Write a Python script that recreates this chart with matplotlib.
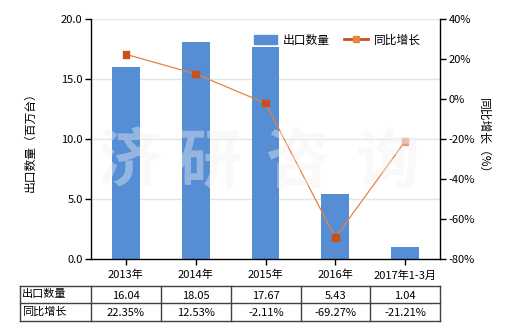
import matplotlib
matplotlib.use("Agg")
import matplotlib.pyplot as plt
from matplotlib.lines import Line2D
from matplotlib.patches import Patch

plt.rcParams['font.family'] = ['Noto Sans CJK SC', 'DejaVu Sans']

categories = ["2013年", "2014年", "2015年", "2016年", "2017年1-3月"]
export_qty = [16.04, 18.05, 17.67, 5.43, 1.04]
yoy_growth = [22.35, 12.53, -2.11, -69.27, -21.21]
qty_labels = ["16.04", "18.05", "17.67", "5.43", "1.04"]
yoy_labels = ["22.35%", "12.53%", "-2.11%", "-69.27%", "-21.21%"]
left_ticks = [0, 5, 10, 15, 20]
right_ticks = [-80, -60, -40, -20, 0, 20, 40]
series_names = ["出口数量", "同比增长"]
watermark = "济研咨询"

W, H = 520, 330
fig = plt.figure(figsize=(W / 100, H / 100), dpi=100)

def fx(px):
    return px / W

def fy(py):
    return 1 - py / H

ax_l, ax_r, ax_t, ax_b = 91, 440, 19, 259
ax = fig.add_axes([fx(ax_l), fy(ax_b), fx(ax_r - ax_l), fy(ax_t) - fy(ax_b)])
ax2 = ax.twinx()

bar_color = "#558ED5"
line_color = "#E8823C"
marker_colors = ["#C9501C", "#C9501C", "#C9501C", "#C9501C", "#E99A80"]
x = list(range(len(categories)))

ax.bar(x, export_qty, width=0.4, color=bar_color, zorder=2)
ax.set_xlim(-0.5, len(categories) - 0.5)
ax.set_ylim(0, 20)
ax.set_yticks(left_ticks)
ax.set_yticklabels([f"{v:.1f}" for v in left_ticks])
ax.set_xticks(x)
ax.set_xticklabels(categories)
for yv in left_ticks[1:]:
    ax.axhline(yv, color="#DCEAE7", lw=1, zorder=1)

ax2.plot(x, yoy_growth, color=line_color, lw=0.9, zorder=3)
ax2.scatter(x, yoy_growth, marker="s", s=22, c=marker_colors, zorder=4)
ax2.set_ylim(-80, 40)
ax2.set_yticks(right_ticks)
ax2.set_yticklabels([f"{v}%" for v in right_ticks])

for a in (ax, ax2):
    a.spines['top'].set_visible(False)
    a.tick_params(labelsize=8, length=4, width=1, colors="black", pad=2)
    for s in ('left', 'right', 'bottom'):
        a.spines[s].set_linewidth(1)
ax.spines['right'].set_visible(False)
ax2.spines['left'].set_visible(False)
ax2.spines['bottom'].set_visible(False)
ax.tick_params(axis='x', pad=4)

ax.set_ylabel("出口数量（百万台）", fontsize=8.5)
ax.yaxis.set_label_coords(-0.155, 0.5)
ax2.set_ylabel("同比增长（%）", fontsize=8.5, rotation=270, labelpad=12)
ax2.yaxis.set_label_coords(1.145, 0.5)

handles = [Patch(color=bar_color),
           Line2D([0], [0], color="#C9501C", lw=2, marker="s", markersize=4,
                  markerfacecolor="#E8823C", markeredgecolor="#E8823C")]
fig.legend(handles, series_names, loc="upper left",
           bbox_to_anchor=(fx(243), fy(23)), ncol=2, frameon=False,
           fontsize=8.5, handlelength=2.0, handleheight=0.9,
           columnspacing=1.2, handletextpad=0.5)

# watermark
for ch, cx in zip(watermark, [130, 210, 298, 388]):
    fig.text(fx(cx), fy(163), ch, fontsize=46, fontweight="bold",
             color="#F2F2F2", alpha=0.4, ha="center", va="center", zorder=5)

# table
t_top, t_mid, t_bot = 286, 303, 321
col_edges = [20, 91, 161, 231, 301, 370, 440]
lc = "#404040"
for yy in (t_top, t_mid, t_bot):
    fig.add_artist(Line2D([fx(col_edges[0]), fx(col_edges[-1])], [fy(yy), fy(yy)],
                          color=lc, lw=1, transform=fig.transFigure))
for xx in col_edges:
    fig.add_artist(Line2D([fx(xx), fx(xx)], [fy(t_top), fy(t_bot)],
                          color=lc, lw=1, transform=fig.transFigure))
rows = [(series_names[0], qty_labels), (series_names[1], yoy_labels)]
for (name, vals), (y0, y1) in zip(rows, [(t_top, t_mid), (t_mid, t_bot)]):
    yc = fy((y0 + y1) / 2)
    fig.text(fx(col_edges[0] + 2), yc, name, fontsize=8, ha="left", va="center")
    for i, v in enumerate(vals):
        xc = (col_edges[i + 1] + col_edges[i + 2]) / 2
        fig.text(fx(xc), yc - 0.004, v, fontsize=8, ha="center", va="center")

fig.savefig("out.png", dpi=100)
